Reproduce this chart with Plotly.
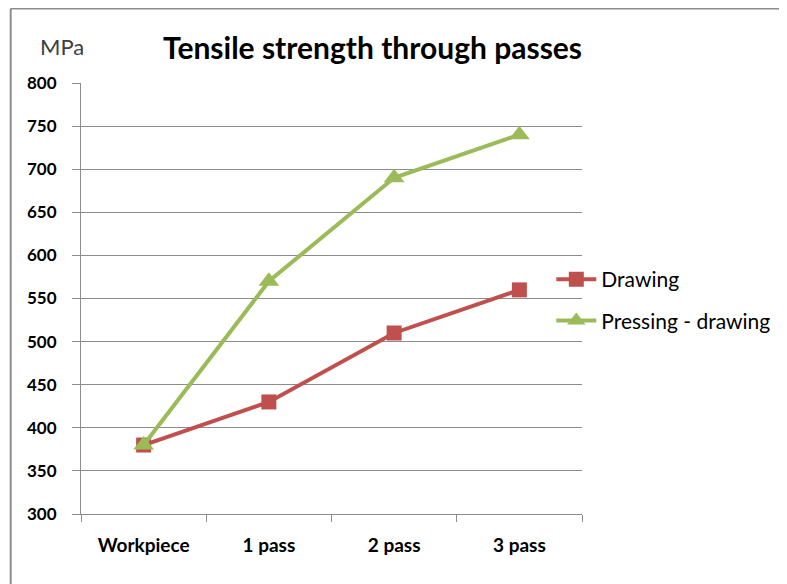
import plotly.graph_objects as go

CATEGORIES = ["Workpiece", "1 pass", "2 pass", "3 pass"]
DRAWING = [380, 430, 510, 560]
PRESSING_DRAWING = [380, 570, 690, 740]
Y_TICKS = [300, 350, 400, 450, 500, 550, 600, 650, 700, 750, 800]

RED = "#C0504D"
GREEN = "#9BBB59"
GREY = "#8C8C8C"
FONT = "Lato"

# page body adds an 8px margin, so the figure is drawn 8px in from the window edge
OFF = 8
W, H = 787 - OFF, 584 - OFF
L, R, T, B = 81 - OFF, 200, 83 - OFF, 70
PW, PH = W - L - R, H - T - B


def px_x(p):
    return (p - OFF - L) / PW


def px_y(p):
    return (H - B - (p - OFF)) / PH


fig = go.Figure()
fig.add_trace(go.Scatter(
    x=CATEGORIES, y=DRAWING, name="Drawing", mode="lines+markers",
    legendgroup="a",
    line=dict(color=RED, width=4),
    marker=dict(symbol="square", size=15, color=RED),
))
fig.add_trace(go.Scatter(
    x=CATEGORIES, y=PRESSING_DRAWING, name="Pressing - drawing", mode="lines+markers",
    legendgroup="b",
    line=dict(color=GREEN, width=4),
    marker=dict(symbol="triangle-up", size=18, color=GREEN),
))

fig.update_layout(
    width=W, height=H,
    paper_bgcolor="white", plot_bgcolor="white",
    margin=dict(l=L, r=R, t=T, b=B),
    font=dict(family=FONT, color="#000000"),
    showlegend=True,
    legend=dict(x=px_x(556), y=px_y(300), xanchor="left", yanchor="middle",
                font=dict(size=21, family=FONT, color="#000000"),
                bgcolor="rgba(0,0,0,0)", itemwidth=40, tracegroupgap=11),
    xaxis=dict(
        type="category", range=[-0.5, 3.5],
        showline=True, linecolor=GREY, linewidth=1,
        ticks="outside", tickson="boundaries", ticklen=7, tickcolor=GREY,
        ticklabelstandoff=14,
        showgrid=False, tickfont=dict(size=19, family=FONT, weight="bold"),
        fixedrange=True,
    ),
    yaxis=dict(
        range=[300, 800], tickvals=Y_TICKS,
        showline=True, linecolor=GREY, linewidth=1,
        ticks="outside", ticklen=8, tickcolor=GREY,
        ticklabelstandoff=12,
        showgrid=True, gridcolor=GREY, gridwidth=1, zeroline=False,
        tickfont=dict(size=17, family=FONT, weight="bold"),
        fixedrange=True,
    ),
    annotations=[
        dict(text="<b>Tensile strength through passes</b>", xref="paper", yref="paper",
             x=px_x(375), y=px_y(47), xanchor="center", yanchor="middle",
             showarrow=False, font=dict(size=30, family=FONT, color="#000000")),
        dict(text="MPa", xref="paper", yref="paper",
             x=px_x(38), y=px_y(47), xanchor="left", yanchor="middle",
             showarrow=False, font=dict(size=22, family=FONT, color="#404040")),
    ],
    shapes=[
        dict(type="line", xref="paper", yref="paper",
             x0=px_x(10), x1=px_x(10), y0=px_y(8.5), y1=px_y(600),
             line=dict(color=GREY, width=2)),
        dict(type="line", xref="paper", yref="paper",
             x0=px_x(10), x1=px_x(800), y0=px_y(8.5), y1=px_y(8.5),
             line=dict(color=GREY, width=2)),
    ],
)

fig.write_html("out.html")
